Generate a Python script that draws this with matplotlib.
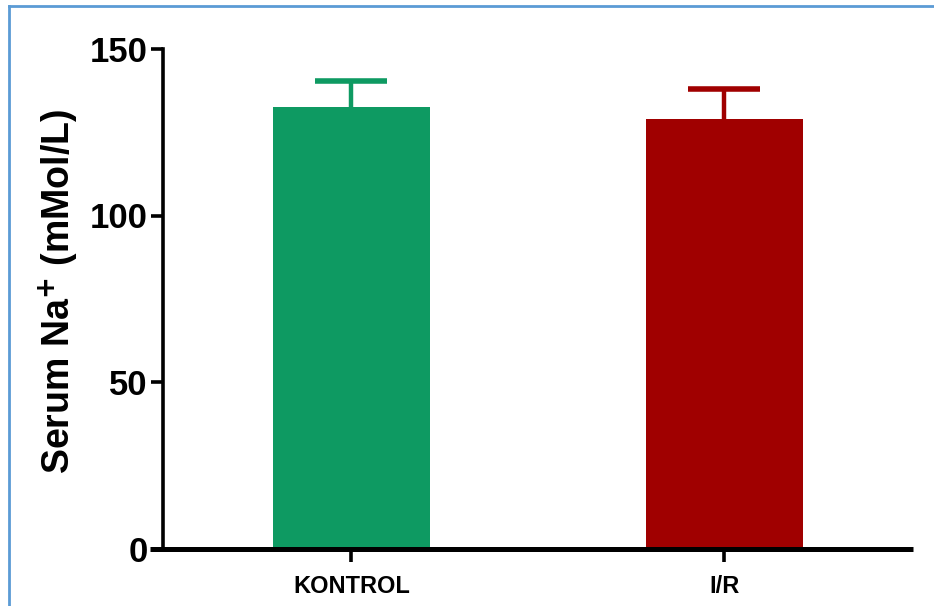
import matplotlib
matplotlib.use("Agg")
import matplotlib.pyplot as plt
from matplotlib.lines import Line2D

categories = ["KONTROL", "I/R"]
means = [132.5, 129.0]
sd = [7.9, 9.0]
colors = ["#0E9A62", "#A00000"]
yticks = [0, 50, 100, 150]

plt.rcParams['font.family'] = ['Liberation Sans', 'DejaVu Sans']
fig = plt.figure(figsize=(9.34, 6.06), dpi=100)
W, H = 934, 606
ax = fig.add_axes([163 / W, 1 - 548.5 / H, (913 - 163) / W, (548.5 - 49) / H])

x = [0, 1]
ax.bar(x, means, width=0.421, color=colors, zorder=2)
for xi, m, s, c in zip(x, means, sd, colors):
    ax.errorbar(xi, m, yerr=s, fmt='none', ecolor=c, elinewidth=3.2,
                capsize=26, capthick=4, zorder=1)

ax.set_xlim(-0.505, 1.506)
ax.set_ylim(0, 150)
ax.set_yticks(yticks)
ax.set_yticklabels([str(t) for t in yticks], fontsize=25, fontweight='bold')
ax.set_xticks(x)
ax.set_xticklabels(categories, fontsize=17, fontweight='bold')
for sp in ['top', 'right']:
    ax.spines[sp].set_visible(False)
ax.spines['left'].set_linewidth(2.6)
ax.spines['bottom'].set_linewidth(3.6)
ax.spines['bottom'].set_bounds(-0.505 - 0.035, 1.506)
ax.spines['bottom'].set_capstyle('butt')
ax.tick_params(axis='y', length=9, width=2.6, pad=2)
ax.tick_params(axis='x', length=9, width=2.6, pad=10)
ax.set_ylabel("Serum Na$^{\\mathbf{+}}$ (mMol/L)", fontsize=27, fontweight='bold')
ax.yaxis.set_label_coords(-0.111, 0.515)

# figure border (top and left)
fig.add_artist(Line2D([8.5 / W, 8.5 / W], [0, 1 - 5.5 / H], transform=fig.transFigure, color="#5B9BD5", lw=2))
fig.add_artist(Line2D([8.5 / W, 1], [1 - 5.5 / H, 1 - 5.5 / H], transform=fig.transFigure, color="#5B9BD5", lw=2))

fig.savefig("out.png", dpi=100)
